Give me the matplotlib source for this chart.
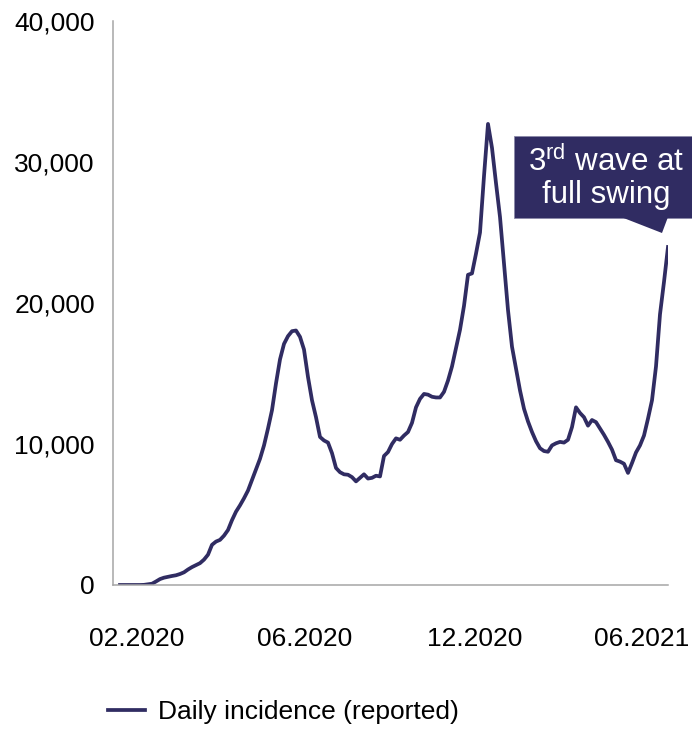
import matplotlib
matplotlib.use("Agg")
import matplotlib.pyplot as plt
from matplotlib.patches import Rectangle, Polygon

plt.rcParams['font.family'] = ['Liberation Sans', 'DejaVu Sans']
plt.rcParams['mathtext.fontset'] = 'custom'
plt.rcParams['mathtext.rm'] = 'Liberation Sans'

# daily incidence (reported), sampled at regular steps from 02.2020 to 06.2021
incidence = [
    0, 0, 0, 0, 0, 0, 10, 50, 90, 250,
    420, 520, 580, 640, 690, 780, 900, 1100, 1270, 1410,
    1550, 1800, 2150, 2850, 3080, 3200, 3500, 3900, 4600, 5200,
    5650, 6150, 6700, 7450, 8200, 8950, 9900, 11100, 12400, 14300,
    16000, 17100, 17650, 18000, 18050, 17600, 16700, 14750, 13100, 11900,
    10500, 10250, 10100, 9350, 8300, 8000, 7850, 7820, 7650, 7350,
    7600, 7850, 7550, 7600, 7750, 7700, 9150, 9430, 10000, 10400,
    10300, 10600, 10850, 11500, 12600, 13200, 13550, 13500, 13350, 13300,
    13300, 13700, 14500, 15500, 16800, 18100, 19800, 22000, 22100, 23500,
    25000, 29000, 32700, 31000, 28500, 26100, 22800, 19500, 16900, 15350,
    13800, 12500, 11600, 10850, 10200, 9700, 9500, 9450, 9900, 10050,
    10150, 10100, 10300, 11200, 12600, 12200, 11900, 11300, 11700, 11550,
    11100, 10650, 10150, 9600, 8850, 8750, 8600, 7950, 8650, 9400,
    9900, 10600, 11800, 13100, 15500, 19200, 21500, 23970,
]
tick_idx = [4.25, 46.25, 88.75, 130.5]
tick_labels = ['02.2020', '06.2020', '12.2020', '06.2021']
y_ticks = [0, 10000, 20000, 30000, 40000]

navy = '#302C62'
grey = '#A6A6A6'

fig = plt.figure(figsize=(6.92, 7.29), dpi=100)
ax = fig.add_axes([113 / 692, 1 - 585 / 729, 555 / 692, 564 / 729])

ax.plot(range(len(incidence)), incidence, color=navy, lw=2.7,
        label='Daily incidence (reported)', solid_joinstyle='round')

ax.set_xlim(-1.75, len(incidence) - 1)
ax.set_ylim(0, 40000)
ax.set_yticks(y_ticks)
ax.set_yticklabels([f'{v:,}' for v in y_ticks])
ax.set_xticks(tick_idx)
ax.set_xticklabels(tick_labels)

for s in ['top', 'right']:
    ax.spines[s].set_visible(False)
for s in ['left', 'bottom']:
    ax.spines[s].set_color(grey)
    ax.spines[s].set_linewidth(1.1)
ax.tick_params(axis='both', length=0, labelsize=19, colors='black')
ax.tick_params(axis='y', pad=13)
ax.tick_params(axis='x', pad=30)

# callout box
fig.patches.append(Rectangle((514 / 692, 1 - 218 / 729), 178 / 692, 82 / 729,
                             transform=fig.transFigure, facecolor=navy,
                             edgecolor='#8A88A8', lw=0.6))
fig.patches.append(Polygon([(621 / 692, 1 - 217 / 729), (668 / 692, 1 - 217 / 729),
                            (662 / 692, 1 - 233 / 729)],
                           closed=True, transform=fig.transFigure,
                           facecolor=navy, edgecolor='none'))
fig.text(606 / 692, 1 - 178 / 729, '3$^{\\mathrm{rd}}$ wave at\nfull swing',
         color='white', fontsize=22.5, ha='center', va='center',
         linespacing=1.1)

fig.legend(loc='center left', bbox_to_anchor=(108 / 692, 1 - 712 / 729),
           frameon=False, borderaxespad=0, borderpad=0, fontsize=19,
           handlelength=1.4, handletextpad=0.5)

fig.savefig('out.png', dpi=100)
